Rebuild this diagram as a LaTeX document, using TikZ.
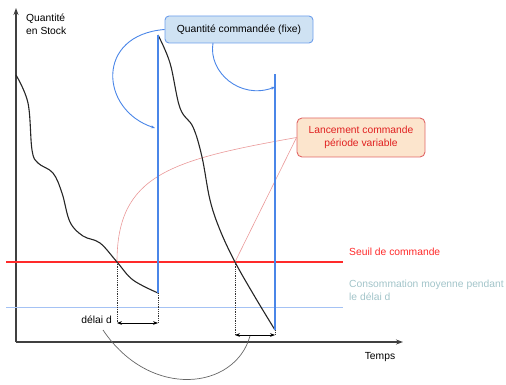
\documentclass[tikz,border=0pt]{standalone}
\usepackage{fontspec}
\setmainfont{Liberation Sans}
\usepackage{tikz}
\usetikzlibrary{positioning,arrows.meta}

\definecolor{ordblue}{HTML}{4A86E8}
\definecolor{boxblue}{HTML}{CFE2F3}
\definecolor{edgeblue}{HTML}{6D9EEB}
\definecolor{lightblue}{HTML}{A4C2F4}
\definecolor{seuilred}{HTML}{FF2A2A}
\definecolor{pinkline}{HTML}{EA9999}
\definecolor{boxorange}{HTML}{FCE5CD}
\definecolor{edgered}{HTML}{E06666}
\definecolor{textred}{HTML}{E02020}
\definecolor{consotext}{HTML}{A2C4C9}

\begin{document}
\begin{tikzpicture}[x=1pt, y=-1pt, font=\fontsize{10.3}{12.5}\selectfont,
    axis/.style={draw=black!75, line width=1.3pt, -{Stealth[length=7pt, width=5pt]}},
    stock/.style={draw=black!85, line width=1.1pt},
    refill/.style={draw=ordblue, line width=2.2pt},
    dotline/.style={draw=black!80, densely dotted, line width=0.8pt},
    delay/.style={draw=black, line width=0.9pt, {Stealth[length=5pt]}-{Stealth[length=5pt]}},
    bluearrow/.style={draw=ordblue, line width=0.9pt, -{Stealth[length=4pt, width=3pt]}},
    qbox/.style={draw=edgeblue, fill=boxblue, rounded corners=4pt, line width=0.9pt, minimum width=148pt, minimum height=27pt, align=center},
    lbox/.style={draw=edgered, fill=boxorange, rounded corners=5pt, line width=0.9pt, minimum width=128pt, minimum height=39pt, align=center, text=textred},
    note/.style={draw=pinkline, line width=0.6pt}]
    \useasboundingbox (0,0) rectangle (506,385);

    % nodes
    \coordinate (O) at (16,342);
    \coordinate (ytop) at (16,8);
    \coordinate (xend) at (403,342);
    \node[anchor=north west, align=left, inner sep=0pt] (ylab) at (26,14) {Quantité\\en Stock};
    \node (xlab) at (380,357) {Temps};

    \coordinate (s1) at (117,262);
    \coordinate (e1) at (158,293);
    \coordinate (t1) at (158,35);
    \coordinate (s2) at (235,262);
    \coordinate (e2) at (275,330);
    \coordinate (t2) at (275,74);
    \coordinate (d1a) at (117,323);
    \coordinate (d1b) at (158,323);
    \coordinate (d2a) at (235,335);
    \coordinate (d2b) at (275,335);

    \coordinate (sl) at (6,262);
    \coordinate (sr) at (343,262);
    \coordinate (cl) at (6,307);
    \coordinate (cr) at (343,307);

    \node[qbox] (qte) at (239,29.5) {Quantité commandée (fixe)};
    \node[lbox] (lanc) at (361,137.5) {Lancement commande\\période variable};
    \node[anchor=west, text=seuilred, inner sep=0pt] (seuil) at (349,252) {Seuil de commande};
    \node[anchor=north west, align=left, text=consotext, inner sep=0pt] (conso) at (349,280) {Consommation moyenne pendant\\le délai d};
    \node[anchor=east, inner sep=1pt] (delai) at (113,320) {délai d};
    \coordinate (g1) at (103,330);
    \coordinate (g2) at (250,336);
    \coordinate (q1) at (155,128);
    \coordinate (q2) at (275,87);

    % axes
    \draw[axis] (O) -- (ytop);
    \draw[axis] (O) -- (xend);

    % seuil and consommation
    \draw[draw=seuilred, line width=1.1pt] (sl) -- (sr);
    \draw[draw=lightblue, line width=0.9pt] (cl) -- (cr);

    % lancement commande
    \draw[note] (lanc.west) .. controls (170,160) and (117,175) .. (s1);
    \draw[note] (lanc.west) -- (s2);

    % stock
    \draw[stock] plot[smooth, tension=0.6] coordinates {(16,75) (28,103) (32,150) (38,163) (53,173) (62,193) (70,222) (83,236) (100,243) (117,262) (133,280) (158,293)};
    \draw[stock] plot[smooth, tension=0.6] coordinates {(158,35) (170,63) (180,108) (193,127) (202,157) (210,200) (220,230) (235,262) (255,297) (275,330)};
    \draw[refill] (e1) -- (t1);
    \draw[refill] (e2) -- (t2);

    % délai
    \draw[dotline] (s1) -- (d1a);
    \draw[dotline] (e1) -- (d1b);
    \draw[dotline] (s2) -- (d2a);
    \draw[dotline] (e2) -- (d2b);
    \draw[delay] (d1a) -- (d1b);
    \draw[delay] (d2a) -- (d2b);
    \draw[draw=black!60, line width=0.7pt] (g1) .. controls (150,400) and (235,390) .. (g2);

    % arrows
    \draw[bluearrow] (qte.west) .. controls (95,35) and (100,110) .. (q1);
    \draw[bluearrow] (213,43) .. controls (208,72) and (240,100) .. (q2);
\end{tikzpicture}
\end{document}
